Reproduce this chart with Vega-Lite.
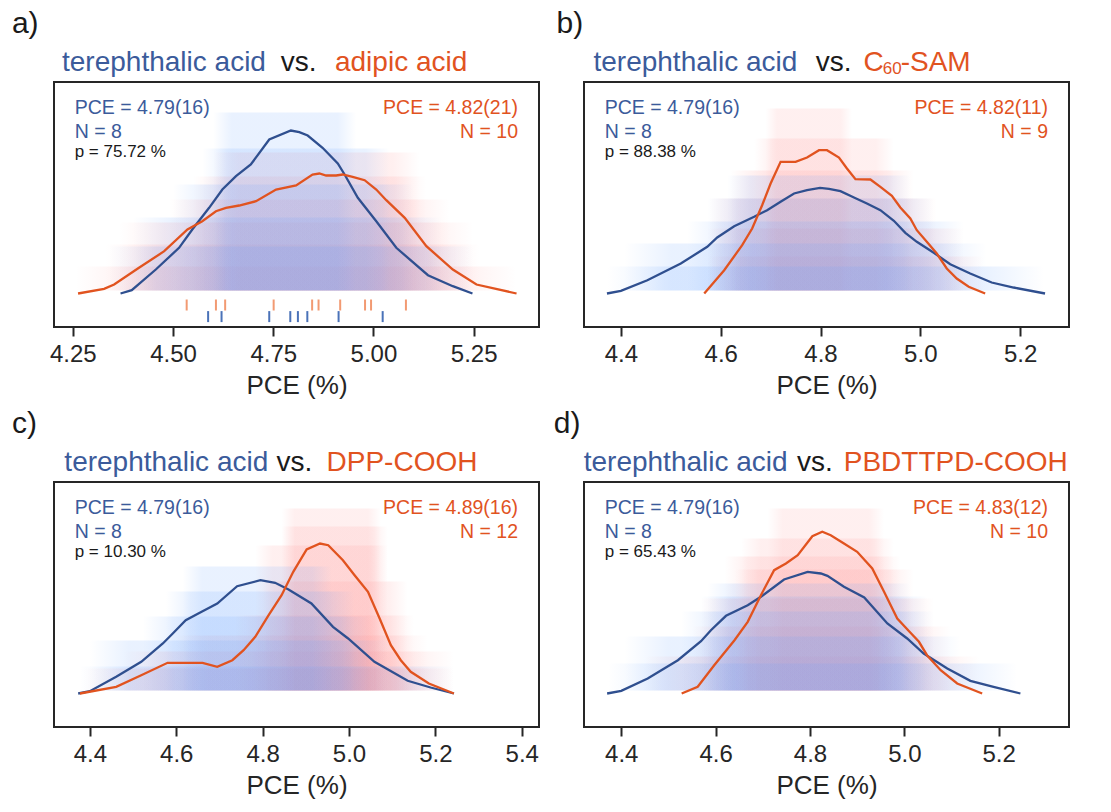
{
  "$schema": "https://vega.github.io/schema/vega-lite/v6.json",
  "padding": {"left": 10, "top": 8, "right": 5, "bottom": 5},
  "background": "white",
  "config": {
    "font": "Liberation Sans",
    "view": {"stroke": "#262626", "strokeWidth": 2},
    "axis": {"domain": false, "grid": false, "ticks": true, "tickColor": "#262626", "tickWidth": 2, "tickSize": 9, "labelFontSize": 24, "labelColor": "#262626", "labelPadding": 6, "titleFontSize": 26, "titleFontWeight": "normal", "titleColor": "#262626", "titlePadding": 6, "labelFont": "Liberation Sans", "titleFont": "Liberation Sans"},
    "text": {"font": "Liberation Sans"}
  },
  "datasets": {
    "curves": [
      {"p":"a","s":"t","x":4.369,"d":0},{"p":"a","s":"t","x":4.397,"d":3.3},{"p":"a","s":"t","x":4.457,"d":24},{"p":"a","s":"t","x":4.515,"d":45.7},{"p":"a","s":"t","x":4.548,"d":64},{"p":"a","s":"t","x":4.59,"d":85.7},{"p":"a","s":"t","x":4.623,"d":104},{"p":"a","s":"t","x":4.657,"d":117.3},{"p":"a","s":"t","x":4.694,"d":129},{"p":"a","s":"t","x":4.74,"d":154},{"p":"a","s":"t","x":4.794,"d":163},{"p":"a","s":"t","x":4.815,"d":161.3},{"p":"a","s":"t","x":4.836,"d":158},{"p":"a","s":"t","x":4.873,"d":145.7},{"p":"a","s":"t","x":4.911,"d":130},{"p":"a","s":"t","x":4.928,"d":119},{"p":"a","s":"t","x":4.961,"d":95.7},{"p":"a","s":"t","x":5.007,"d":72.3},{"p":"a","s":"t","x":5.057,"d":45.7},{"p":"a","s":"t","x":5.136,"d":18.3},{"p":"a","s":"t","x":5.198,"d":7.3},{"p":"a","s":"t","x":5.247,"d":0},
      {"p":"a","s":"o","x":4.263,"d":0},{"p":"a","s":"o","x":4.328,"d":4.7},{"p":"a","s":"o","x":4.353,"d":9},{"p":"a","s":"o","x":4.415,"d":25.7},{"p":"a","s":"o","x":4.478,"d":42.3},{"p":"a","s":"o","x":4.536,"d":64},{"p":"a","s":"o","x":4.573,"d":72.3},{"p":"a","s":"o","x":4.607,"d":82.3},{"p":"a","s":"o","x":4.632,"d":85.7},{"p":"a","s":"o","x":4.665,"d":88},{"p":"a","s":"o","x":4.707,"d":92.3},{"p":"a","s":"o","x":4.757,"d":104},{"p":"a","s":"o","x":4.807,"d":108},{"p":"a","s":"o","x":4.848,"d":119},{"p":"a","s":"o","x":4.865,"d":120},{"p":"a","s":"o","x":4.882,"d":118},{"p":"a","s":"o","x":4.907,"d":118},{"p":"a","s":"o","x":4.923,"d":119},{"p":"a","s":"o","x":4.948,"d":116.7},{"p":"a","s":"o","x":4.978,"d":113.3},{"p":"a","s":"o","x":5.007,"d":104},{"p":"a","s":"o","x":5.032,"d":93.3},{"p":"a","s":"o","x":5.078,"d":75.7},{"p":"a","s":"o","x":5.132,"d":47.3},{"p":"a","s":"o","x":5.198,"d":24},{"p":"a","s":"o","x":5.257,"d":9},{"p":"a","s":"o","x":5.357,"d":0},
      {"p":"b","s":"t","x":4.372,"d":0},{"p":"b","s":"t","x":4.4,"d":2.7},{"p":"b","s":"t","x":4.453,"d":13.3},{"p":"b","s":"t","x":4.52,"d":30},{"p":"b","s":"t","x":4.573,"d":46.7},{"p":"b","s":"t","x":4.593,"d":56},{"p":"b","s":"t","x":4.627,"d":67.3},{"p":"b","s":"t","x":4.667,"d":76.7},{"p":"b","s":"t","x":4.693,"d":83.3},{"p":"b","s":"t","x":4.72,"d":91.7},{"p":"b","s":"t","x":4.747,"d":100},{"p":"b","s":"t","x":4.773,"d":103.3},{"p":"b","s":"t","x":4.799,"d":105.7},{"p":"b","s":"t","x":4.817,"d":104.7},{"p":"b","s":"t","x":4.84,"d":102.3},{"p":"b","s":"t","x":4.867,"d":96},{"p":"b","s":"t","x":4.893,"d":90},{"p":"b","s":"t","x":4.92,"d":83.3},{"p":"b","s":"t","x":4.947,"d":72.7},{"p":"b","s":"t","x":4.97,"d":60.7},{"p":"b","s":"t","x":4.993,"d":51.7},{"p":"b","s":"t","x":5.027,"d":40.7},{"p":"b","s":"t","x":5.06,"d":29.3},{"p":"b","s":"t","x":5.1,"d":20},{"p":"b","s":"t","x":5.143,"d":11},{"p":"b","s":"t","x":5.187,"d":6},{"p":"b","s":"t","x":5.25,"d":0},
      {"p":"b","s":"o","x":4.567,"d":0},{"p":"b","s":"o","x":4.607,"d":23.3},{"p":"b","s":"o","x":4.643,"d":48.3},{"p":"b","s":"o","x":4.663,"d":65},{"p":"b","s":"o","x":4.683,"d":88.3},{"p":"b","s":"o","x":4.7,"d":110},{"p":"b","s":"o","x":4.72,"d":131.7},{"p":"b","s":"o","x":4.75,"d":131.7},{"p":"b","s":"o","x":4.773,"d":136},{"p":"b","s":"o","x":4.797,"d":143.3},{"p":"b","s":"o","x":4.813,"d":143.3},{"p":"b","s":"o","x":4.837,"d":136},{"p":"b","s":"o","x":4.853,"d":125},{"p":"b","s":"o","x":4.87,"d":114.3},{"p":"b","s":"o","x":4.9,"d":114},{"p":"b","s":"o","x":4.92,"d":106.7},{"p":"b","s":"o","x":4.943,"d":97.7},{"p":"b","s":"o","x":4.96,"d":86},{"p":"b","s":"o","x":4.98,"d":75},{"p":"b","s":"o","x":4.993,"d":63.3},{"p":"b","s":"o","x":5.013,"d":51.7},{"p":"b","s":"o","x":5.033,"d":40},{"p":"b","s":"o","x":5.053,"d":25},{"p":"b","s":"o","x":5.073,"d":15},{"p":"b","s":"o","x":5.097,"d":6.7},{"p":"b","s":"o","x":5.13,"d":0},
      {"p":"c","s":"t","x":4.373,"d":0},{"p":"c","s":"t","x":4.4,"d":2.3},{"p":"c","s":"t","x":4.461,"d":16.7},{"p":"c","s":"t","x":4.519,"d":31.7},{"p":"c","s":"t","x":4.569,"d":50},{"p":"c","s":"t","x":4.592,"d":60},{"p":"c","s":"t","x":4.622,"d":73.3},{"p":"c","s":"t","x":4.661,"d":82.3},{"p":"c","s":"t","x":4.695,"d":90},{"p":"c","s":"t","x":4.741,"d":107.3},{"p":"c","s":"t","x":4.795,"d":113.3},{"p":"c","s":"t","x":4.829,"d":110.7},{"p":"c","s":"t","x":4.86,"d":104},{"p":"c","s":"t","x":4.913,"d":90},{"p":"c","s":"t","x":4.963,"d":66.7},{"p":"c","s":"t","x":4.998,"d":55},{"p":"c","s":"t","x":5.059,"d":31.7},{"p":"c","s":"t","x":5.136,"d":12.7},{"p":"c","s":"t","x":5.189,"d":6},{"p":"c","s":"t","x":5.243,"d":0},
      {"p":"c","s":"o","x":4.377,"d":0},{"p":"c","s":"o","x":4.461,"d":6.7},{"p":"c","s":"o","x":4.519,"d":18.3},{"p":"c","s":"o","x":4.58,"d":30.7},{"p":"c","s":"o","x":4.661,"d":30.7},{"p":"c","s":"o","x":4.695,"d":26.7},{"p":"c","s":"o","x":4.73,"d":33.3},{"p":"c","s":"o","x":4.756,"d":43.3},{"p":"c","s":"o","x":4.783,"d":56.7},{"p":"c","s":"o","x":4.814,"d":78.3},{"p":"c","s":"o","x":4.844,"d":98.3},{"p":"c","s":"o","x":4.871,"d":121.7},{"p":"c","s":"o","x":4.902,"d":144},{"p":"c","s":"o","x":4.933,"d":150},{"p":"c","s":"o","x":4.952,"d":148.3},{"p":"c","s":"o","x":4.986,"d":133.3},{"p":"c","s":"o","x":5.013,"d":118.3},{"p":"c","s":"o","x":5.044,"d":101.7},{"p":"c","s":"o","x":5.071,"d":75},{"p":"c","s":"o","x":5.097,"d":48.3},{"p":"c","s":"o","x":5.12,"d":33.3},{"p":"c","s":"o","x":5.143,"d":21.7},{"p":"c","s":"o","x":5.185,"d":10},{"p":"c","s":"o","x":5.243,"d":0},
      {"p":"d","s":"t","x":4.37,"d":0},{"p":"d","s":"t","x":4.4,"d":2.7},{"p":"d","s":"t","x":4.456,"d":15},{"p":"d","s":"t","x":4.52,"d":33.3},{"p":"d","s":"t","x":4.569,"d":52.3},{"p":"d","s":"t","x":4.59,"d":63.3},{"p":"d","s":"t","x":4.622,"d":77.7},{"p":"d","s":"t","x":4.668,"d":88.3},{"p":"d","s":"t","x":4.696,"d":96.7},{"p":"d","s":"t","x":4.745,"d":114},{"p":"d","s":"t","x":4.795,"d":121.7},{"p":"d","s":"t","x":4.823,"d":120},{"p":"d","s":"t","x":4.837,"d":117.7},{"p":"d","s":"t","x":4.872,"d":106.7},{"p":"d","s":"t","x":4.915,"d":96},{"p":"d","s":"t","x":4.964,"d":70},{"p":"d","s":"t","x":5.006,"d":55},{"p":"d","s":"t","x":5.041,"d":40},{"p":"d","s":"t","x":5.091,"d":25},{"p":"d","s":"t","x":5.14,"d":12.7},{"p":"d","s":"t","x":5.189,"d":6.7},{"p":"d","s":"t","x":5.246,"d":0},
      {"p":"d","s":"o","x":4.528,"d":0},{"p":"d","s":"o","x":4.562,"d":6.7},{"p":"d","s":"o","x":4.597,"d":28.3},{"p":"d","s":"o","x":4.64,"d":53.3},{"p":"d","s":"o","x":4.668,"d":71.7},{"p":"d","s":"o","x":4.696,"d":98.3},{"p":"d","s":"o","x":4.724,"d":123.3},{"p":"d","s":"o","x":4.749,"d":130},{"p":"d","s":"o","x":4.774,"d":138.3},{"p":"d","s":"o","x":4.805,"d":157.3},{"p":"d","s":"o","x":4.826,"d":161.7},{"p":"d","s":"o","x":4.844,"d":158.3},{"p":"d","s":"o","x":4.872,"d":150},{"p":"d","s":"o","x":4.9,"d":141.7},{"p":"d","s":"o","x":4.932,"d":125},{"p":"d","s":"o","x":4.957,"d":101.7},{"p":"d","s":"o","x":4.985,"d":75},{"p":"d","s":"o","x":5.01,"d":62.3},{"p":"d","s":"o","x":5.031,"d":51.7},{"p":"d","s":"o","x":5.048,"d":38.3},{"p":"d","s":"o","x":5.077,"d":23.3},{"p":"d","s":"o","x":5.112,"d":10},{"p":"d","s":"o","x":5.165,"d":0}
    ],
    "bands": [
      {"p":"a","s":"t","x1":4.6,"x2":4.957,"top":181},{"p":"a","s":"t","x1":4.573,"x2":5.04,"top":145},{"p":"a","s":"t","x1":4.5,"x2":5.1,"top":109},{"p":"a","s":"t","x1":4.4,"x2":5.17,"top":76},{"p":"a","s":"t","x1":4.34,"x2":5.25,"top":47},
      {"p":"a","s":"o","x1":4.6,"x2":5.115,"top":141},{"p":"a","s":"o","x1":4.55,"x2":5.132,"top":117},{"p":"a","s":"o","x1":4.49,"x2":5.19,"top":94},{"p":"a","s":"o","x1":4.365,"x2":5.248,"top":71},{"p":"a","s":"o","x1":4.332,"x2":5.265,"top":49},{"p":"a","s":"o","x1":4.257,"x2":5.357,"top":27},
      {"p":"b","s":"t","x1":4.613,"x2":4.98,"top":118},{"p":"b","s":"t","x1":4.573,"x2":5.027,"top":95},{"p":"b","s":"t","x1":4.533,"x2":5.087,"top":72},{"p":"b","s":"t","x1":4.407,"x2":5.133,"top":50},{"p":"b","s":"t","x1":4.373,"x2":5.247,"top":27},
      {"p":"b","s":"o","x1":4.69,"x2":4.863,"top":185},{"p":"b","s":"o","x1":4.667,"x2":4.947,"top":155},{"p":"b","s":"o","x1":4.62,"x2":4.987,"top":123},{"p":"b","s":"o","x1":4.577,"x2":5.033,"top":95},{"p":"b","s":"o","x1":4.573,"x2":5.087,"top":65},{"p":"b","s":"o","x1":4.573,"x2":5.127,"top":37},
      {"p":"c","s":"t","x1":4.615,"x2":4.96,"top":127},{"p":"c","s":"t","x1":4.576,"x2":5.013,"top":102},{"p":"c","s":"t","x1":4.523,"x2":5.05,"top":77},{"p":"c","s":"t","x1":4.4,"x2":5.09,"top":53},{"p":"c","s":"t","x1":4.377,"x2":5.243,"top":27},
      {"p":"c","s":"o","x1":4.844,"x2":5.074,"top":185},{"p":"c","s":"o","x1":4.844,"x2":5.09,"top":167},{"p":"c","s":"o","x1":4.783,"x2":5.09,"top":148},{"p":"c","s":"o","x1":4.8,"x2":5.136,"top":112},{"p":"c","s":"o","x1":4.737,"x2":5.151,"top":78},{"p":"c","s":"o","x1":4.6,"x2":5.182,"top":58},{"p":"c","s":"o","x1":4.477,"x2":5.243,"top":42},{"p":"c","s":"o","x1":4.385,"x2":5.243,"top":25},
      {"p":"d","s":"t","x1":4.583,"x2":5.013,"top":110},{"p":"d","s":"t","x1":4.569,"x2":5.048,"top":97},{"p":"d","s":"t","x1":4.527,"x2":5.063,"top":82},{"p":"d","s":"t","x1":4.407,"x2":5.119,"top":57},{"p":"d","s":"t","x1":4.372,"x2":5.239,"top":30},
      {"p":"d","s":"o","x1":4.71,"x2":4.957,"top":185},{"p":"d","s":"o","x1":4.654,"x2":4.978,"top":155},{"p":"d","s":"o","x1":4.619,"x2":4.992,"top":137},{"p":"d","s":"o","x1":4.64,"x2":5.02,"top":124},{"p":"d","s":"o","x1":4.569,"x2":5.063,"top":95},{"p":"d","s":"o","x1":4.55,"x2":5.098,"top":67},{"p":"d","s":"o","x1":4.45,"x2":5.16,"top":37}
    ],
    "rug": [
      {"s":"o","x":4.534},{"s":"o","x":4.607},{"s":"o","x":4.63},{"s":"o","x":4.751},{"s":"o","x":4.847},{"s":"o","x":4.863},{"s":"o","x":4.917},{"s":"o","x":4.979},{"s":"o","x":4.994},{"s":"o","x":5.081},
      {"s":"t","x":4.5875},{"s":"t","x":4.621},{"s":"t","x":4.74},{"s":"t","x":4.7925},{"s":"t","x":4.8115},{"s":"t","x":4.835},{"s":"t","x":4.913},{"s":"t","x":5.023}
    ]
  },
  "columns": 2,
  "spacing": {"row": 155, "column": 45},
  "bounds": "flush",
  "concat": [
    {
      "width": 485, "height": 245,
      "data": {"values": [{}]},
      "layer": [
        {"data": {"name": "bands"}, "transform": [{"filter": "datum.p == 'a' && datum.s == 'o'"}],
         "mark": {"type": "rect", "fillOpacity": 0.13, "fill": {"gradient": "linear", "x1": 0, "y1": 0, "x2": 1, "y2": 0, "stops": [{"offset": 0, "color": "rgba(255,135,135,0)"}, {"offset": 0.13, "color": "rgba(255,135,135,1)"}, {"offset": 0.87, "color": "rgba(255,135,135,1)"}, {"offset": 1, "color": "rgba(255,135,135,0)"}]}},
         "encoding": {"x": {"field": "x1", "type": "quantitative", "scale": {"domain": [4.203, 5.413], "nice": false, "zero": false}, "axis": {"values": [4.25, 4.5, 4.75, 5, 5.25], "format": ".2f", "title": "PCE (%)"}}, "x2": {"field": "x2"}, "y": {"field": "top", "type": "quantitative", "scale": {"domain": [-33.5, 211.5], "nice": false, "zero": false}, "axis": null}, "y2": {"datum": 3}}},
        {"data": {"name": "bands"}, "transform": [{"filter": "datum.p == 'a' && datum.s == 't'"}],
         "mark": {"type": "rect", "fillOpacity": 0.14, "fill": {"gradient": "linear", "x1": 0, "y1": 0, "x2": 1, "y2": 0, "stops": [{"offset": 0, "color": "rgba(100,160,255,0)"}, {"offset": 0.13, "color": "rgba(100,160,255,1)"}, {"offset": 0.87, "color": "rgba(100,160,255,1)"}, {"offset": 1, "color": "rgba(100,160,255,0)"}]}},
         "encoding": {"x": {"field": "x1", "type": "quantitative"}, "x2": {"field": "x2"}, "y": {"field": "top", "type": "quantitative"}, "y2": {"datum": 3}}},
        {"data": {"name": "curves"}, "transform": [{"filter": "datum.p == 'a'"}],
         "mark": {"type": "line", "strokeWidth": 2.3},
         "encoding": {"x": {"field": "x", "type": "quantitative"}, "y": {"field": "d", "type": "quantitative"}, "color": {"field": "s", "type": "nominal", "scale": {"domain": ["t", "o"], "range": ["#2F4F8F", "#E1531F"]}, "legend": null}}},
        {"data": {"name": "rug"}, "transform": [{"filter": "datum.s == 'o'"}],
         "mark": {"type": "rule", "strokeWidth": 2, "color": "#F29A72"},
         "encoding": {"x": {"field": "x", "type": "quantitative"}, "y": {"datum": -6}, "y2": {"datum": -17}}},
        {"data": {"name": "rug"}, "transform": [{"filter": "datum.s == 't'"}],
         "mark": {"type": "rule", "strokeWidth": 2, "color": "#4A72B8"},
         "encoding": {"x": {"field": "x", "type": "quantitative"}, "y": {"datum": -17.6}, "y2": {"datum": -28.6}}},
        {"mark": {"type": "text", "text": "PCE = 4.79(16)", "align": "left", "fontSize": 19.5, "color": "#3B5B9B"}, "encoding": {"x": {"datum": 4.2546}, "y": {"datum": 186}}},
        {"mark": {"type": "text", "text": "N = 8", "align": "left", "fontSize": 19.5, "color": "#3B5B9B"}, "encoding": {"x": {"datum": 4.2546}, "y": {"datum": 161.5}}},
        {"mark": {"type": "text", "text": "p = 75.72 %", "align": "left", "fontSize": 17, "color": "#1a1a1a"}, "encoding": {"x": {"datum": 4.2546}, "y": {"datum": 141.5}}},
        {"mark": {"type": "text", "text": "PCE = 4.82(21)", "align": "right", "fontSize": 19.5, "color": "#E1531F"}, "encoding": {"x": {"datum": 5.3606}, "y": {"datum": 186}}},
        {"mark": {"type": "text", "text": "N = 10", "align": "right", "fontSize": 19.5, "color": "#E1531F"}, "encoding": {"x": {"datum": 5.3606}, "y": {"datum": 161.5}}},
        {"mark": {"type": "text", "text": "terephthalic acid", "align": "left", "fontSize": 28, "color": "#3B5B9B"}, "encoding": {"x": {"datum": 4.223}, "y": {"datum": 230.5}}},
        {"mark": {"type": "text", "text": "vs.", "align": "left", "fontSize": 28, "color": "#1a1a1a"}, "encoding": {"x": {"datum": 4.769}, "y": {"datum": 230.5}}},
        {"mark": {"type": "text", "text": "adipic acid", "align": "left", "fontSize": 28, "color": "#E1531F"}, "encoding": {"x": {"datum": 4.904}, "y": {"datum": 230.5}}},
        {"mark": {"type": "text", "text": "a)", "align": "left", "fontSize": 30, "color": "#1a1a1a"}, "encoding": {"x": {"datum": 4.098}, "y": {"datum": 269.5}}}
      ]
    },
    {
      "width": 485, "height": 245,
      "data": {"values": [{}]},
      "layer": [
        {"data": {"name": "bands"}, "transform": [{"filter": "datum.p == 'b' && datum.s == 'o'"}],
         "mark": {"type": "rect", "fillOpacity": 0.13, "fill": {"gradient": "linear", "x1": 0, "y1": 0, "x2": 1, "y2": 0, "stops": [{"offset": 0, "color": "rgba(255,135,135,0)"}, {"offset": 0.13, "color": "rgba(255,135,135,1)"}, {"offset": 0.87, "color": "rgba(255,135,135,1)"}, {"offset": 1, "color": "rgba(255,135,135,0)"}]}},
         "encoding": {"x": {"field": "x1", "type": "quantitative", "scale": {"domain": [4.326, 5.298], "nice": false, "zero": false}, "axis": {"values": [4.4, 4.6, 4.8, 5.0, 5.2], "format": ".1f", "title": "PCE (%)"}}, "x2": {"field": "x2"}, "y": {"field": "top", "type": "quantitative", "scale": {"domain": [-33.5, 211.5], "nice": false, "zero": false}, "axis": null}, "y2": {"datum": 3}}},
        {"data": {"name": "bands"}, "transform": [{"filter": "datum.p == 'b' && datum.s == 't'"}],
         "mark": {"type": "rect", "fillOpacity": 0.14, "fill": {"gradient": "linear", "x1": 0, "y1": 0, "x2": 1, "y2": 0, "stops": [{"offset": 0, "color": "rgba(100,160,255,0)"}, {"offset": 0.13, "color": "rgba(100,160,255,1)"}, {"offset": 0.87, "color": "rgba(100,160,255,1)"}, {"offset": 1, "color": "rgba(100,160,255,0)"}]}},
         "encoding": {"x": {"field": "x1", "type": "quantitative"}, "x2": {"field": "x2"}, "y": {"field": "top", "type": "quantitative"}, "y2": {"datum": 3}}},
        {"data": {"name": "curves"}, "transform": [{"filter": "datum.p == 'b'"}],
         "mark": {"type": "line", "strokeWidth": 2.3},
         "encoding": {"x": {"field": "x", "type": "quantitative"}, "y": {"field": "d", "type": "quantitative"}, "color": {"field": "s", "type": "nominal", "scale": {"domain": ["t", "o"], "range": ["#2F4F8F", "#E1531F"]}, "legend": null}}},
        {"mark": {"type": "text", "text": "PCE = 4.79(16)", "align": "left", "fontSize": 19.5, "color": "#3B5B9B"}, "encoding": {"x": {"datum": 4.3675}, "y": {"datum": 186}}},
        {"mark": {"type": "text", "text": "N = 8", "align": "left", "fontSize": 19.5, "color": "#3B5B9B"}, "encoding": {"x": {"datum": 4.3675}, "y": {"datum": 161.5}}},
        {"mark": {"type": "text", "text": "p = 88.38 %", "align": "left", "fontSize": 17, "color": "#1a1a1a"}, "encoding": {"x": {"datum": 4.3675}, "y": {"datum": 141.5}}},
        {"mark": {"type": "text", "text": "PCE = 4.82(11)", "align": "right", "fontSize": 19.5, "color": "#E1531F"}, "encoding": {"x": {"datum": 5.2559}, "y": {"datum": 186}}},
        {"mark": {"type": "text", "text": "N = 9", "align": "right", "fontSize": 19.5, "color": "#E1531F"}, "encoding": {"x": {"datum": 5.2559}, "y": {"datum": 161.5}}},
        {"mark": {"type": "text", "text": "terephthalic acid", "align": "left", "fontSize": 28, "color": "#3B5B9B"}, "encoding": {"x": {"datum": 4.345}, "y": {"datum": 230.5}}},
        {"mark": {"type": "text", "text": "vs.", "align": "left", "fontSize": 28, "color": "#1a1a1a"}, "encoding": {"x": {"datum": 4.7903}, "y": {"datum": 230.5}}},
        {"mark": {"type": "text", "text": "C", "align": "left", "fontSize": 28, "color": "#E1531F"}, "encoding": {"x": {"datum": 4.886}, "y": {"datum": 230.5}}},
        {"mark": {"type": "text", "text": "60", "align": "left", "fontSize": 17, "color": "#E1531F"}, "encoding": {"x": {"datum": 4.9246}, "y": {"datum": 224.5}}},
        {"mark": {"type": "text", "text": "-SAM", "align": "left", "fontSize": 28, "color": "#E1531F"}, "encoding": {"x": {"datum": 4.9607}, "y": {"datum": 230.5}}},
        {"mark": {"type": "text", "text": "b)", "align": "left", "fontSize": 30, "color": "#1a1a1a"}, "encoding": {"x": {"datum": 4.271}, "y": {"datum": 269.5}}}
      ]
    },
    {
      "width": 485, "height": 245,
      "data": {"values": [{}]},
      "layer": [
        {"data": {"name": "bands"}, "transform": [{"filter": "datum.p == 'c' && datum.s == 'o'"}],
         "mark": {"type": "rect", "fillOpacity": 0.13, "fill": {"gradient": "linear", "x1": 0, "y1": 0, "x2": 1, "y2": 0, "stops": [{"offset": 0, "color": "rgba(255,135,135,0)"}, {"offset": 0.13, "color": "rgba(255,135,135,1)"}, {"offset": 0.87, "color": "rgba(255,135,135,1)"}, {"offset": 1, "color": "rgba(255,135,135,0)"}]}},
         "encoding": {"x": {"field": "x1", "type": "quantitative", "scale": {"domain": [4.317, 5.44], "nice": false, "zero": false}, "axis": {"values": [4.4, 4.6, 4.8, 5.0, 5.2, 5.4], "format": ".1f", "title": "PCE (%)"}}, "x2": {"field": "x2"}, "y": {"field": "top", "type": "quantitative", "scale": {"domain": [-33.5, 211.5], "nice": false, "zero": false}, "axis": null}, "y2": {"datum": 3}}},
        {"data": {"name": "bands"}, "transform": [{"filter": "datum.p == 'c' && datum.s == 't'"}],
         "mark": {"type": "rect", "fillOpacity": 0.14, "fill": {"gradient": "linear", "x1": 0, "y1": 0, "x2": 1, "y2": 0, "stops": [{"offset": 0, "color": "rgba(100,160,255,0)"}, {"offset": 0.13, "color": "rgba(100,160,255,1)"}, {"offset": 0.87, "color": "rgba(100,160,255,1)"}, {"offset": 1, "color": "rgba(100,160,255,0)"}]}},
         "encoding": {"x": {"field": "x1", "type": "quantitative"}, "x2": {"field": "x2"}, "y": {"field": "top", "type": "quantitative"}, "y2": {"datum": 3}}},
        {"data": {"name": "curves"}, "transform": [{"filter": "datum.p == 'c'"}],
         "mark": {"type": "line", "strokeWidth": 2.3},
         "encoding": {"x": {"field": "x", "type": "quantitative"}, "y": {"field": "d", "type": "quantitative"}, "color": {"field": "s", "type": "nominal", "scale": {"domain": ["t", "o"], "range": ["#2F4F8F", "#E1531F"]}, "legend": null}}},
        {"mark": {"type": "text", "text": "PCE = 4.79(16)", "align": "left", "fontSize": 19.5, "color": "#3B5B9B"}, "encoding": {"x": {"datum": 4.3649}, "y": {"datum": 186}}},
        {"mark": {"type": "text", "text": "N = 8", "align": "left", "fontSize": 19.5, "color": "#3B5B9B"}, "encoding": {"x": {"datum": 4.3649}, "y": {"datum": 161.5}}},
        {"mark": {"type": "text", "text": "p = 10.30 %", "align": "left", "fontSize": 17, "color": "#1a1a1a"}, "encoding": {"x": {"datum": 4.3649}, "y": {"datum": 141.5}}},
        {"mark": {"type": "text", "text": "PCE = 4.89(16)", "align": "right", "fontSize": 19.5, "color": "#E1531F"}, "encoding": {"x": {"datum": 5.3914}, "y": {"datum": 186}}},
        {"mark": {"type": "text", "text": "N = 12", "align": "right", "fontSize": 19.5, "color": "#E1531F"}, "encoding": {"x": {"datum": 5.3914}, "y": {"datum": 161.5}}},
        {"mark": {"type": "text", "text": "terephthalic acid", "align": "left", "fontSize": 28, "color": "#3B5B9B"}, "encoding": {"x": {"datum": 4.341}, "y": {"datum": 230.5}}},
        {"mark": {"type": "text", "text": "vs.", "align": "left", "fontSize": 28, "color": "#1a1a1a"}, "encoding": {"x": {"datum": 4.832}, "y": {"datum": 230.5}}},
        {"mark": {"type": "text", "text": "DPP-COOH", "align": "left", "fontSize": 28, "color": "#E1531F"}, "encoding": {"x": {"datum": 4.948}, "y": {"datum": 230.5}}},
        {"mark": {"type": "text", "text": "c)", "align": "left", "fontSize": 30, "color": "#1a1a1a"}, "encoding": {"x": {"datum": 4.22}, "y": {"datum": 269.5}}}
      ]
    },
    {
      "width": 485, "height": 245,
      "data": {"values": [{}]},
      "layer": [
        {"data": {"name": "bands"}, "transform": [{"filter": "datum.p == 'd' && datum.s == 'o'"}],
         "mark": {"type": "rect", "fillOpacity": 0.13, "fill": {"gradient": "linear", "x1": 0, "y1": 0, "x2": 1, "y2": 0, "stops": [{"offset": 0, "color": "rgba(255,135,135,0)"}, {"offset": 0.13, "color": "rgba(255,135,135,1)"}, {"offset": 0.87, "color": "rgba(255,135,135,1)"}, {"offset": 1, "color": "rgba(255,135,135,0)"}]}},
         "encoding": {"x": {"field": "x1", "type": "quantitative", "scale": {"domain": [4.321, 5.349], "nice": false, "zero": false}, "axis": {"values": [4.4, 4.6, 4.8, 5.0, 5.2], "format": ".1f", "title": "PCE (%)"}}, "x2": {"field": "x2"}, "y": {"field": "top", "type": "quantitative", "scale": {"domain": [-33.5, 211.5], "nice": false, "zero": false}, "axis": null}, "y2": {"datum": 3}}},
        {"data": {"name": "bands"}, "transform": [{"filter": "datum.p == 'd' && datum.s == 't'"}],
         "mark": {"type": "rect", "fillOpacity": 0.14, "fill": {"gradient": "linear", "x1": 0, "y1": 0, "x2": 1, "y2": 0, "stops": [{"offset": 0, "color": "rgba(100,160,255,0)"}, {"offset": 0.13, "color": "rgba(100,160,255,1)"}, {"offset": 0.87, "color": "rgba(100,160,255,1)"}, {"offset": 1, "color": "rgba(100,160,255,0)"}]}},
         "encoding": {"x": {"field": "x1", "type": "quantitative"}, "x2": {"field": "x2"}, "y": {"field": "top", "type": "quantitative"}, "y2": {"datum": 3}}},
        {"data": {"name": "curves"}, "transform": [{"filter": "datum.p == 'd'"}],
         "mark": {"type": "line", "strokeWidth": 2.3},
         "encoding": {"x": {"field": "x", "type": "quantitative"}, "y": {"field": "d", "type": "quantitative"}, "color": {"field": "s", "type": "nominal", "scale": {"domain": ["t", "o"], "range": ["#2F4F8F", "#E1531F"]}, "legend": null}}},
        {"mark": {"type": "text", "text": "PCE = 4.79(16)", "align": "left", "fontSize": 19.5, "color": "#3B5B9B"}, "encoding": {"x": {"datum": 4.3649}, "y": {"datum": 186}}},
        {"mark": {"type": "text", "text": "N = 8", "align": "left", "fontSize": 19.5, "color": "#3B5B9B"}, "encoding": {"x": {"datum": 4.3649}, "y": {"datum": 161.5}}},
        {"mark": {"type": "text", "text": "p = 65.43 %", "align": "left", "fontSize": 17, "color": "#1a1a1a"}, "encoding": {"x": {"datum": 4.3649}, "y": {"datum": 141.5}}},
        {"mark": {"type": "text", "text": "PCE = 4.83(12)", "align": "right", "fontSize": 19.5, "color": "#E1531F"}, "encoding": {"x": {"datum": 5.3045}, "y": {"datum": 186}}},
        {"mark": {"type": "text", "text": "N = 10", "align": "right", "fontSize": 19.5, "color": "#E1531F"}, "encoding": {"x": {"datum": 5.3045}, "y": {"datum": 161.5}}},
        {"mark": {"type": "text", "text": "terephthalic acid", "align": "left", "fontSize": 28, "color": "#3B5B9B"}, "encoding": {"x": {"datum": 4.3204}, "y": {"datum": 230.5}}},
        {"mark": {"type": "text", "text": "vs.", "align": "left", "fontSize": 28, "color": "#1a1a1a"}, "encoding": {"x": {"datum": 4.7725}, "y": {"datum": 230.5}}},
        {"mark": {"type": "text", "text": "PBDTTPD-COOH", "align": "left", "fontSize": 28, "color": "#E1531F"}, "encoding": {"x": {"datum": 4.8715}, "y": {"datum": 230.5}}},
        {"mark": {"type": "text", "text": "d)", "align": "left", "fontSize": 30, "color": "#1a1a1a"}, "encoding": {"x": {"datum": 4.257}, "y": {"datum": 269.5}}}
      ]
    }
  ]
}
